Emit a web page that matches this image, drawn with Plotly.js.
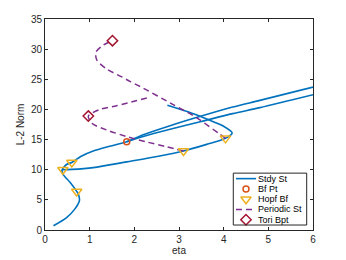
<!DOCTYPE html>
<html>
<head>
<meta charset="utf-8">
<script src="https://cdn.plot.ly/plotly-3.0.1.min.js"></script>
<style>html,body{margin:0;padding:0;background:#fff;}#chart{width:346px;height:260px;}</style>
</head>
<body>
<div id="chart"></div>
<script>
// Steady-state branches
var stdyAX = [0.19,0.49,0.67,0.77,0.75,0.71,0.56,0.41,0.38,0.42,0.49,0.6,0.8,1.08,1.45,1.83,2.2,2.8,3.5,4.2,4.81,6];
var stdyAY = [0.7,2.1,3.5,4.85,5.9,6.4,7.9,9.2,9.9,10.4,10.9,11.2,12.2,13.1,13.9,14.65,15.8,17.3,18.9,20.4,21.5,23.7];
var stdyBX = [0.38,0.6,1.08,1.83,2.57,3.1,3.62,4.04,4.19,4.0,3.62,3.2,2.74];
var stdyBY = [10.0,10.05,10.35,11.3,12.27,13.1,14.2,15.2,16.1,17.2,18.4,19.6,20.7];
var stdyCX = [1.83,2.2,2.8,3.5,4.2,4.81,6];
var stdyCY = [14.65,15.5,16.7,18.0,19.3,20.3,22.45];
// Bifurcation points
var bfX = [1.83];
var bfY = [14.65];
var hopfX = [0.71,0.40,0.6,3.1,4.04];
var hopfY = [6.4,10.0,11.2,13.1,15.2];
// Periodic branches
var perAX = [4.04,3.92,3.4,2.87,2.13,1.9,1.72,1.38,1.16,1.14,1.31,1.51];
var perAY = [15.2,15.85,18.6,20.8,23.8,24.65,25.4,26.7,28.2,29.5,30.7,31.4];
var perBX = [3.1,2.72,2.28,1.83,1.38,1.05,0.97,1.23,1.6,1.87,2.28];
var perBY = [13.1,13.8,14.6,15.5,16.6,17.7,18.9,20.0,20.6,21.1,21.9];
// Tori branch points
var toriX = [0.97,1.51];
var toriY = [18.9,31.4];
// Legend labels
var legendLabels = ['Stdy St','Bf Pt','Hopf Bf','Periodic St','Tori Bpt'];

var BLUE='#0072BD', ORANGE='#D95319', YELLOW='#EDB120', PURPLE='#7E2F8E', RED='#A2142F', INK='#262626';
var blueLine = {color:BLUE,width:1.6,shape:'spline',smoothing:0.8};
var purpleLine = {color:PURPLE,width:1.5,dash:'6px,4px',shape:'spline',smoothing:0.8};

var traces = [
  {x:stdyAX,y:stdyAY,mode:'lines',line:blueLine},
  {x:stdyBX,y:stdyBY,mode:'lines',line:blueLine},
  {x:stdyCX,y:stdyCY,mode:'lines',line:blueLine},
  {x:perAX,y:perAY,mode:'lines',line:purpleLine},
  {x:perBX,y:perBY,mode:'lines',line:purpleLine},
  {x:bfX,y:bfY,mode:'markers',marker:{symbol:'circle-open',size:6,color:ORANGE,line:{width:1.5}}},
  {x:hopfX,y:hopfY,mode:'markers',marker:{symbol:'triangle-down-open',size:9,color:YELLOW,line:{width:1.5}}},
  {x:toriX,y:toriY,mode:'markers',marker:{symbol:'diamond-open',size:8,color:RED,line:{width:1.5}}}
];

// Custom compact legend (glyphs on a hidden overlay axis in 0..1 units)
var rows = [0.2435,0.1948,0.1461,0.0974,0.0487];
traces.push({x:[0.7127,0.7873],y:[rows[0],rows[0]],xaxis:'x2',yaxis:'y2',mode:'lines',line:{color:BLUE,width:1.6}});
traces.push({x:[0.75],y:[rows[1]],xaxis:'x2',yaxis:'y2',mode:'markers',marker:{symbol:'circle-open',size:6,color:ORANGE,line:{width:1.5}}});
traces.push({x:[0.75],y:[rows[2]],xaxis:'x2',yaxis:'y2',mode:'markers',marker:{symbol:'triangle-down-open',size:9,color:YELLOW,line:{width:1.5}}});
traces.push({x:[0.7127,0.7873],y:[rows[3],rows[3]],xaxis:'x2',yaxis:'y2',mode:'lines',line:{color:PURPLE,width:1.5,dash:'6px,4px'}});
traces.push({x:[0.75],y:[rows[4]],xaxis:'x2',yaxis:'y2',mode:'markers',marker:{symbol:'diamond-open',size:8,color:RED,line:{width:1.5}}});

var annotations = legendLabels.map(function(t,i){
  return {text:t,xref:'paper',yref:'paper',x:0.7937,y:rows[i],xanchor:'left',yanchor:'middle',showarrow:false,
          borderpad:0,borderwidth:0,
          font:{family:'Liberation Sans, Arial, sans-serif',size:9,color:'#000'}};
});

var axisCommon = {showline:true,mirror:'ticks',linecolor:INK,linewidth:1,ticks:'inside',ticklen:3,tickcolor:INK,
  showgrid:false,zeroline:false,tickfont:{family:'Liberation Sans, Arial, sans-serif',size:10,color:INK}};

var layout = {
  width:346,height:260,
  margin:{l:45,r:33,t:19,b:29.5},
  paper_bgcolor:'#fff',plot_bgcolor:'#fff',
  showlegend:false,
  font:{family:'Liberation Sans, Arial, sans-serif',size:10,color:INK},
  xaxis:Object.assign({},axisCommon,{range:[0,6],tickvals:[0,1,2,3,4,5,6],title:{text:'eta',standoff:2,font:{size:10,color:INK}}}),
  yaxis:Object.assign({},axisCommon,{range:[0,35],tickvals:[0,5,10,15,20,25,30,35],title:{text:'L-2 Norm',standoff:4,font:{size:10,color:INK}}}),
  xaxis2:{overlaying:'x',anchor:'y2',range:[0,1],visible:false,fixedrange:true},
  yaxis2:{overlaying:'y',anchor:'x2',range:[0,1],visible:false,fixedrange:true},
  shapes:[{type:'rect',xref:'paper',yref:'paper',x0:0.7026,x1:0.9765,y0:0.0236,y1:0.2695,line:{color:INK,width:1},fillcolor:'rgba(0,0,0,0)',layer:'above'}],
  annotations:annotations
};

Plotly.newPlot('chart',traces,layout,{displayModeBar:false,staticPlot:true});
</script>
</body>
</html>
